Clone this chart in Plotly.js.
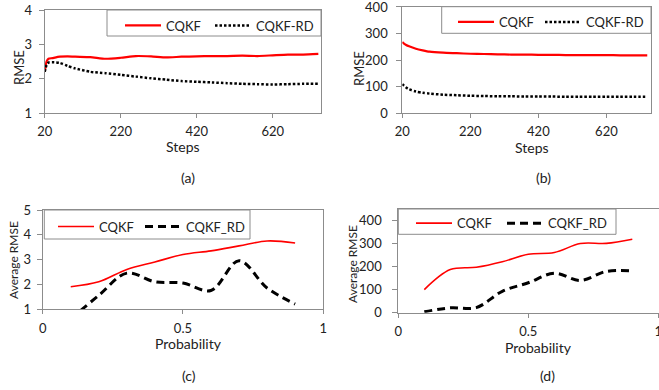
<!DOCTYPE html>
<html>
<head>
<meta charset="utf-8">
<script src="https://cdn.plot.ly/plotly-3.0.1.min.js"></script>
<style>html,body{margin:0;padding:0;background:#fff;}#chart{width:659px;height:390px;}</style>
</head>
<body>
<div id="chart"></div>
<script>
// ---- data (a) ----
const stepsA = [20, 25, 30, 40, 60, 80, 100, 140, 180, 220, 260, 300, 340, 380, 420, 460, 500, 540, 580, 620, 660, 700, 740];
const rmseCqkfA = [2.2, 2.5, 2.58, 2.6, 2.64, 2.65, 2.64, 2.63, 2.58, 2.61, 2.66, 2.65, 2.62, 2.64, 2.65, 2.66, 2.66, 2.67, 2.66, 2.68, 2.7, 2.7, 2.72];
const rmseRdA = [2.2, 2.4, 2.47, 2.48, 2.46, 2.37, 2.3, 2.2, 2.16, 2.11, 2.06, 2.01, 1.97, 1.93, 1.91, 1.89, 1.87, 1.85, 1.84, 1.83, 1.84, 1.85, 1.85];
// ---- data (b) ----
const stepsB = [20, 25, 30, 40, 60, 80, 100, 140, 180, 220, 260, 300, 340, 380, 420, 460, 500, 540, 580, 620, 660, 700, 740];
const rmseCqkfB = [268, 262, 258, 252, 243, 237, 232, 228, 226, 224, 223, 222, 221, 221, 220, 220, 219, 219, 219, 219, 218, 218, 218];
const rmseRdB = [110, 104, 98, 90, 82, 77, 74, 70, 68, 66, 65, 64, 64, 63, 63, 63, 62, 62, 62, 62, 62, 62, 62];
// ---- data (c) ----
const probC = [0.1, 0.2, 0.3, 0.4, 0.5, 0.6, 0.7, 0.8, 0.9];
const avgCqkfC = [1.9, 2.1, 2.6, 2.9, 3.2, 3.35, 3.55, 3.75, 3.67];
const avgRdC = [0.6, 1.55, 2.45, 2.1, 2.05, 1.75, 2.95, 1.85, 1.2];
// ---- data (d) ----
const probD = [0.1, 0.2, 0.3, 0.4, 0.5, 0.6, 0.7, 0.8, 0.9];
const avgCqkfD = [100, 187, 197, 221, 254, 261, 300, 301, 319];
const avgRdD = [4, 21, 22, 93, 130, 171, 140, 179, 181];
// ---- labels ----
const seriesNamesAB = ['CQKF', 'CQKF-RD'];
const seriesNamesCD = ['CQKF', 'CQKF_RD'];
const ticksStepsVals = [20, 220, 420, 620];
const ticksA = [1, 2, 3, 4];
const ticksB = [0, 100, 200, 300, 400];
const ticksC = [1, 2, 3, 4, 5];
const ticksD = [0, 100, 200, 300, 400];
const ticksProb = [0, 0.5, 1];
const ticksProbText = ['0', '0.5', '1'];

const W = 659, H = 390;
const px = v => v / W;
const py = v => 1 - v / H;
const FONT = 'Lato, "Open Sans", sans-serif';
const TXT = '#222';
const AX = '#8c8c8c';
const RED = '#ff0000';

function xax(domain, range, tickvals, ticktext, stand) {
  const a = {domain, range, tickvals, showgrid: false, zeroline: false, showline: true, linecolor: AX, linewidth: 1,
    mirror: true, ticks: 'outside', ticklen: 4, tickcolor: AX, ticklabelstandoff: stand, ticklabeloverflow: 'allow',
    tickfont: {family: FONT, size: 13, color: TXT}, fixedrange: true};
  if (ticktext) { a.ticktext = ticktext; }
  return a;
}
function yax(domain, range, tickvals, stand) {
  return {domain, range, tickvals, showgrid: false, zeroline: false, showline: true, linecolor: AX, linewidth: 1,
    mirror: true, ticks: 'outside', ticklen: 5, tickcolor: AX, ticklabelstandoff: stand, ticklabeloverflow: 'allow',
    tickfont: {family: FONT, size: 13, color: TXT}, fixedrange: true};
}

// legendwidth of first entry sets spacing between the two entries
const LW = {a: 39, b: 36, c: 36, d: 40};

const traces = [
  {x: stepsA, y: rmseCqkfA, name: seriesNamesAB[0], mode: 'lines', line: {color: RED, width: 2.2, shape: 'spline', smoothing: 0.6}, xaxis: 'x', yaxis: 'y', legend: 'legend', legendwidth: LW.a},
  {x: stepsA, y: rmseRdA, name: seriesNamesAB[1], mode: 'lines', line: {color: '#000', width: 2.5, dash: '2.5px,2px', shape: 'spline', smoothing: 0.6}, xaxis: 'x', yaxis: 'y', legend: 'legend', legendwidth: 60},
  {x: stepsB, y: rmseCqkfB, name: seriesNamesAB[0], mode: 'lines', line: {color: RED, width: 2.2, shape: 'spline', smoothing: 0.6}, xaxis: 'x2', yaxis: 'y2', legend: 'legend2', legendwidth: LW.b},
  {x: stepsB, y: rmseRdB, name: seriesNamesAB[1], mode: 'lines', line: {color: '#000', width: 2.5, dash: '2.5px,2px', shape: 'spline', smoothing: 0.6}, xaxis: 'x2', yaxis: 'y2', legend: 'legend2', legendwidth: 60},
  {x: probC, y: avgCqkfC, name: seriesNamesCD[0], mode: 'lines', line: {color: RED, width: 1.6, shape: 'spline'}, xaxis: 'x3', yaxis: 'y3', legend: 'legend3', legendwidth: LW.c},
  {x: probC, y: avgRdC, name: seriesNamesCD[1], mode: 'lines', line: {color: '#000', width: 3, dash: '8px,5px', shape: 'spline'}, xaxis: 'x3', yaxis: 'y3', legend: 'legend3', legendwidth: 60},
  {x: probD, y: avgCqkfD, name: seriesNamesCD[0], mode: 'lines', line: {color: RED, width: 1.6, shape: 'spline'}, xaxis: 'x4', yaxis: 'y4', legend: 'legend4', legendwidth: LW.d},
  {x: probD, y: avgRdD, name: seriesNamesCD[1], mode: 'lines', line: {color: '#000', width: 3, dash: '8px,5px', shape: 'spline'}, xaxis: 'x4', yaxis: 'y4', legend: 'legend4', legendwidth: 60}
];

function leg(lineStart, top) {
  return {x: px(lineStart - 5), y: py(top), xanchor: 'left', yanchor: 'top', orientation: 'h', bgcolor: 'rgba(0,0,0,0)',
    borderwidth: 0, font: {family: FONT, size: 13, color: TXT}, itemwidth: 36,
    traceorder: 'normal', itemclick: false, itemdoubleclick: false};
}
function box(x0, y0, x1, y1) {
  return {type: 'rect', xref: 'paper', yref: 'paper', x0: px(x0), x1: px(x1), y0: py(y1), y1: py(y0),
    line: {color: AX, width: 1}, fillcolor: '#fff', layer: 'above'};
}

function ann(text, x, y, angle, size) {
  return {text, x: px(x), y: py(y), xref: 'paper', yref: 'paper', showarrow: false, xanchor: 'center', yanchor: 'middle',
    textangle: angle || 0, font: {family: FONT, size: size || 14, color: TXT}};
}

const layout = {
  width: W, height: H, margin: {l: 0, r: 0, t: 0, b: 0}, paper_bgcolor: '#fff', plot_bgcolor: '#fff',
  showlegend: true,
  xaxis: xax([px(44.7), px(321)], [20, 747], ticksStepsVals, null, 2),
  yaxis: yax([py(113), py(10)], [1, 4.001], ticksA, 4),
  xaxis2: xax([px(402.3), px(651)], [20, 751], ticksStepsVals, null, 2),
  yaxis2: yax([py(113.3), py(6.7)], [0, 401], ticksB, 6),
  xaxis3: xax([px(42.7), px(323.3)], [0, 1.0005], ticksProb, ticksProbText, 3),
  yaxis3: yax([py(309), py(210)], [1, 5.001], ticksC, 3),
  xaxis4: xax([px(398.3), 1], [0, 1.0027], ticksProb, ticksProbText, 3),
  yaxis4: yax([py(312.7), py(209)], [0, 450], ticksD, 8),
  legend: leg(125, 10.5),
  legend2: leg(458, 7),
  legend3: leg(58, 211.5),
  legend4: leg(416, 208.2),
  shapes: [box(107, 10, 321, 36), box(441.7, 6.7, 651, 33.3), box(44.3, 210, 250, 239), box(398.3, 209, 616, 234.3)],
  annotations: [
    ann('Steps', 183, 146.5), ann('RMSE', 19, 68, -90, 13), ann('(a)', 188, 178),
    ann('Steps', 532, 147), ann('RMSE', 359, 68, -90, 13), ann('(b)', 543, 178),
    ann('Probability', 188, 343), ann('Average RMSE', 13, 260, -90, 12), ann('(c)', 189, 375),
    ann('Probability', 538, 347.5), ann('Average RMSE', 352, 264, -90, 12), ann('(d)', 547, 375)
  ]
};
layout.xaxis.anchor = 'y'; layout.yaxis.anchor = 'x';
layout.xaxis2.anchor = 'y2'; layout.yaxis2.anchor = 'x2';
layout.xaxis3.anchor = 'y3'; layout.yaxis3.anchor = 'x3';
layout.xaxis4.anchor = 'y4'; layout.yaxis4.anchor = 'x4';

Plotly.newPlot('chart', traces, layout, {displayModeBar: false, staticPlot: true});
</script>
</body>
</html>
